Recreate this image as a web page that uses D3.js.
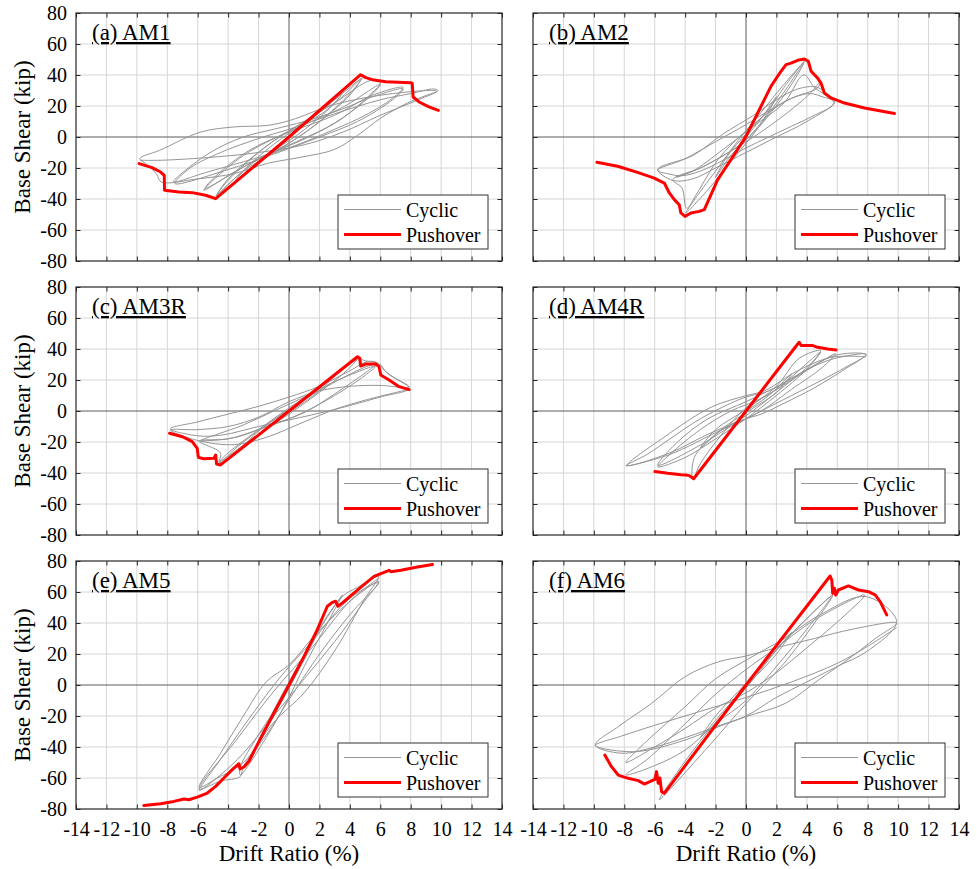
<!DOCTYPE html>
<html>
<head>
<meta charset="utf-8">
<script src="https://cdn.jsdelivr.net/npm/d3@7/dist/d3.min.js"></script>
</head>
<body style="margin:0">
<svg id="canvas" width="977" height="869" font-family="Liberation Serif"></svg>
<script>

// axis ticks and panel names.

const x_ticks = [-14, -12, -10, -8, -6, -4, -2, 0, 2, 4, 6, 8, 10, 12, 14]
const y_ticks = [-80, -60, -40, -20, 0, 20, 40, 60, 80]
const panel_names = ["(a) AM1", "(b) AM2", "(c) AM3R", "(d) AM4R", "(e) AM5", "(f) AM6"]
const legend_names = ["Cyclic", "Pushover"]

// drift ratio (%) vs base shear (kip).

const am1_cyclic = [[0,0],[2,16],[3.5,28],[2.5,17],[0.5,1],[-1.5,-12],[-3.5,-28],[-2.5,-17],[-0.5,-1],[1.5,12],[3.5,28],
    [4.8,38],[4,28],[2,10],[0,-4],[-2,-14],[-3.5,-26],[-4.8,-38],[-4,-28],[-2,-10],[0,4],[2,14],[3.5,26],[4.7,37],
    [4,27],[1.5,6],[-0.5,-7],[-3,-22],[-4.7,-37],[-4,-27],[-1.5,-6],[0.5,7],[3,22],
    [5.4,36.6],[6,35],[5.4,28],[3.5,12],[1.5,1],[-1,-10],[-3.5,-22],[-5.6,-34.4],[-5,-28],[-3,-12],[-1,-1],[1,8],[3.5,19],[6,34],
    [5.3,26],[3,9],[0.5,-3],[-2,-14],[-5.5,-33],[-4.8,-25],[-2.5,-8],[0,3],[3,14],[5.5,27],
    [7.5,32],[6.8,25],[5,14],[3,5],[0,-7],[-3,-16],[-5.5,-23],[-7.6,-29],[-7,-23],[-5,-9],[-3,0],[-1,5],[1,10],[3.5,18],[5.5,26],[7.5,31],
    [6.8,24],[4.5,10],[2,0],[-1,-11],[-4,-21],[-7.5,-30],
    [-6.5,-20],[-4.5,-10],[-2,-1],[0,5],[3,15],[6,24],[8,28],[9.5,31],[9.8,30],[8.8,26],[7.8,22],[6,12],[4.5,1],[3,-8],[0.8,-13],
    [-1.4,-17],[-3.6,-23.6],[-6,-27],[-8.4,-29],[-8.7,-24],[-9.3,-18],[-9.8,-14],
    [-8.5,-8.6],[-5.8,3.2],[-3.6,6.5],[-1.4,7.5],[0.1,10.8],[3,21],[6.8,28],[9.7,29.5],
    [8.5,24],[6,14],[3.5,3],[1,-5],[-2,-10],[-5,-13],[-8.4,-15],[-9.8,-15]]
const am1_pushover = [[-9.85,-17.2],[-9,-19.8],[-8.44,-22.6],[-8.2,-24.7],[-8.18,-34.4],[-7.24,-35.5],[-6.36,-35.9],[-5.48,-37.6],
    [-4.82,-39.8],[0,0],[4.71,40.2],[5.04,38.3],[5.48,37],[6.36,35.7],[8,35],[8.1,34.6],[8.16,25.8],[8.55,22.6],[9.2,19.4],[9.82,17.2]]

const am2_cyclic = [[0,0],[1,12],[2,26],[1.2,12],[0,-2],[-1,-12],[-2,-26],[-1.2,-12],[0,2],[1.5,18],
    [2.5,32],[3.84,49],[3.4,42],[2,22],[0.5,2],[-1,-16],[-2.5,-34],[-3.95,-49],[-3.5,-42],[-2,-22],[-0.5,-2],[1,16],[2.5,34],[3.8,48],
    [3,34],[1.5,14],[0,-2],[-1.5,-12],[-3,-20],[-4.8,-27.5],[-4.2,-33],[-3.9,-46],[-3.2,-36],[-1.8,-14],[0,4],[1.5,16],[3,25],[4.7,31.6],
    [4.9,35.9],[4.2,28],[2.5,14],[0.5,0],[-1.5,-12],[-3,-20],[-4.6,-26],[-3.5,-22],[-1.5,-8],[0.5,7],[2.5,22],[3.8,40],
    [4.5,32],[5.8,22],[4.5,14],[3,7],[1.5,0],[0,-7],[-1.5,-15],[-3,-22],[-4.2,-25],[-5,-24],[-5.8,-21.5],
    [-4,-14],[-2,-3],[0,8],[1.5,17],[3,25],[4.2,28],[5,26],[5.8,22.5],
    [4,10],[2,0],[0,-10],[-2,-20],[-3.5,-27],[-4.8,-28],[-5.8,-21],
    [-3.5,-12],[-1.5,2],[0.5,14],[2,24],[3.4,31],[4.7,32],[5.8,23]]
const am2_pushover = [[-9.8,-16.3],[-8.44,-18.9],[-7.13,-22.8],[-6.03,-26.5],[-5.37,-29.7],[-5.04,-36.1],[-4.71,-40.4],[-4.39,-43.7],
    [-4.28,-49],[-4.01,-51.2],[-3.62,-49],[-3.07,-48],[-2.74,-46.9],[-1.86,-27.5],[-0.99,-14.6],[0,0.4],[0.77,15.5],[1.64,32.7],
    [2.3,42.4],[2.63,46.7],[2.96,47.7],[3.4,49.5],[3.84,50.3],[4.1,48.8],[4.28,42.4],[4.71,38],[4.93,34.8],[5.15,28.4],[5.59,25.2],
    [6.47,21.9],[7.79,18.7],[9.76,15.1]]

const am3r_cyclic = [[0,0],[1.5,11],[3,23],[2,13],[0,-1],[-1.5,-11],[-3,-23],[-2,-13],[0,1],[2,15],
    [4.5,34],[4,28],[2,12],[0,-2],[-2,-15],[-4.6,-33],[-4,-27],[-2,-12],[0,2],[2,15],[4.5,33],
    [5.2,32],[5.8,31],[5.2,26],[3,11],[1,-1],[-1.5,-10],[-3.5,-17],[-5.8,-19],[-5.3,-17],[-3,-9],[-1,0],[1,9],[3,19],[5.7,29],
    [5,23],[3,10],[0.5,-3],[-2,-12],[-4,-18],[-5.9,-19.5],[-4.5,-27],[-4.6,-33.5],[-3.5,-24],[-1.5,-9],[0.5,4],[2.5,16],[5.5,30],
    [6,30],[6.3,26],[7,21],[7.9,14.6],[6,9],[3,1],[0,-5.8],[-2,-10],[-4.4,-15.5],[-6,-16],[-7.8,-11.5],
    [-6,-7],[-4,-2],[-2,3],[0,9],[2,16],[4,26],[5.2,32],[5.8,31],
    [6.5,24],[7.9,15.5],[6,16.5],[4.1,16],[2,13],[0,6],[-2,-4],[-4,-10],[-6,-12],[-7.8,-12.3],
    [-6,-19],[-3.6,-21.7],[-1.5,-17],[1,-7],[3,1],[5,7],[7.9,14]]
const am3r_pushover = [[-7.85,-14.4],[-7,-16.6],[-6.36,-19.8],[-6.03,-24.1],[-5.96,-29.9],[-5.6,-30.8],[-4.93,-30.5],[-4.82,-28.4],
    [-4.76,-34.2],[-4.5,-34.8],[0,0],[4.5,35],[4.65,34],[4.71,29],[5.04,30.3],[5.7,30.3],[5.92,28.6],[6.03,23.2],[6.58,20],
    [7.24,15.7],[7.9,13.8]]

const am4r_cyclic = [[0,0],[1.5,10],[3,24],[2,12],[0,-1],[-1.5,-11],[-3,-24],[-2,-12],[0,1],
    [2,16],[3.5,34],[4.9,39],[4.2,30],[2,12],[0,-3],[-2,-15],[-3.4,-30],[-3.5,-44],[-3,-34],[-1.5,-14],[0,2],[2,14],[4.9,38],
    [4,27],[2,10],[0,-5],[-2,-18],[-4,-30],[-5.8,-36],[-5,-28],[-3,-12],[-1,0],[1,8],[3,20],[5.9,37],
    [5,28],[3,14],[1,0],[-1,-10],[-3,-22],[-5.8,-35],[-4.5,-20],[-2.5,-5],[0,6],[2.5,18],[5.9,36],
    [7.9,36.3],[6.5,28],[5,20],[3,10],[1,0],[0,-5],[-2,-14],[-5,-28],[-7.9,-35.3],
    [-6.5,-28],[-5,-18],[-3,-5],[-1,5],[0,9],[1.5,13],[3.5,24],[5.5,33],[7.9,36.5],
    [6.5,27],[4.5,15],[2.5,5],[1,-2],[0,-5],[-2.5,-15],[-5,-27],[-7.8,-35],
    [-5.4,-17],[-2.3,2.4],[0,9.9],[1.2,13],[3.4,26],[5.6,34.6],[7.9,35]]
const am4r_pushover = [[-5.99,-39.1],[-5.15,-40.2],[-4.28,-41.1],[-3.95,-41.3],[-3.73,-41.7],[-3.57,-42.8],[-3.44,-43.7],[0,0],
    [3.4,43.2],[3.5,44.3],[3.62,42.2],[3.95,42.2],[4.39,42.2],[4.71,41.1],[5.37,40],[5.92,39.4]]

const am5_cyclic = [[0,0],[1,18],[2,36],[1.2,20],[0,-2],[-1,-20],[-2,-36],[-1.2,-20],[0,2],[1.5,28],
    [3.5,58],[2.8,45],[1,12],[0,-8],[-1.5,-34],[-3.2,-58],[-3.2,-53],[-2,-32],[0,-2],[1.5,28],[3.5,57],
    [4.5,63],[5.9,70],[5,56],[3,22],[1,-5],[-1,-24],[-3,-50],[-4.7,-60],[-5.9,-66],
    [-4.5,-44],[-3,-20],[-1.5,2],[0,13],[1.6,31],[3,45],[4.5,58],[5.9,67],
    [4.8,52],[3,28],[1,4],[-1,-20],[-3,-44],[-4.5,-58],[-5.9,-68],[-4.5,-48],[-2.5,-20],[-0.5,6],[1.5,28],[4,56],[5.9,66],
    [4.1,46.5],[1.9,18.5],[0,-9.5],[-1.4,-31],[-3,-52.5],[-3.2,-59],[-4.5,-62],[-5.9,-67],[-3.5,-36],[-1,-4],[1.5,24],[4,54],[5.9,69]]
const am5_pushover = [[-9.54,-77.8],[-8.44,-76.6],[-7.57,-75.1],[-6.9,-73.5],[-6.58,-74],[-6.03,-72.3],[-5.37,-69.7],[-4.82,-65.4],
    [-4.28,-60],[-3.73,-54.6],[-3.29,-50.8],[-3.22,-54.2],[-2.96,-52.9],[-2.63,-49.2],[-2.08,-38.5],[-0.99,-18.1],[0,0],[0.99,18.5],
    [1.86,35.7],[2.52,50.8],[2.85,53.3],[3.07,54],[3.22,50.8],[3.51,52.9],[4.28,59.4],[4.93,64.7],[5.59,70.1],[6.25,72.7],
    [6.58,74],[6.69,73.1],[7.35,74],[8.44,76.1],[9.43,77.8]]

const am6_cyclic = [[0,0],[1.5,17],[3,34],[2,20],[0,-1],[-1.5,-17],[-3,-34],[-2,-20],[0,1],[3,33],
    [5.7,58],[4.5,40],[2.5,14],[0,-12],[-2.5,-40],[-5.7,-74],[-4.5,-56],[-2.5,-30],[0,-2],[2.5,28],[5.6,57],
    [4,36],[2,12],[0,-10],[-2,-25],[-4,-42],[-6,-52],[-7.9,-58],[-6.5,-48],[-4,-25],[-2,-6],[0,10],[2,24],[4.5,42],[7.8,58],
    [6.5,45],[4,24],[2,8],[0,-5],[-2,-15],[-4,-28],[-6,-40],[-7.9,-50],[-6.5,-36],[-4,-14],[-2,4],[0,16],[2.5,30],[5,46],[7.9,57],
    [9.9,41],[8,22],[6,12],[4,2],[2,-8],[0,-20],[-2,-27],[-4,-34],[-6,-40],[-8.2,-44],[-9.9,-38.7],
    [-8.4,-26.9],[-6.2,-11.8],[-4,5.4],[-1.8,15],[0,18.7],[2,24],[4.5,30],[7,36],[9.9,40],
    [8.5,30],[6.95,18.3],[4.76,3.2],[2.6,-11.8],[0,-20.4],[-1.8,-26.9],[-4,-35.5],[-7.3,-43],[-9.9,-39],
    [-8.2,-33],[-6,-26],[-3,-17],[0,-8],[3,2],[6,14],[8,25],[9.9,37]]
const am6_pushover = [[-9.28,-45.2],[-8.84,-52.7],[-8.4,-58.1],[-7.74,-60.2],[-7.08,-61.7],[-6.69,-63.9],[-6.32,-62.4],[-5.99,-60.9],
    [-5.88,-55.9],[-5.77,-63.4],[-5.66,-60],[-5.55,-68.8],[-5.37,-69.9],[0,0],[5.53,70.3],[5.64,67.7],[5.7,59.1],[5.81,62.4],
    [5.9,58],[6.07,61.3],[6.73,63.9],[7.39,61.3],[8.05,60.2],[8.49,58.1],[8.82,53.8],[9.25,45.2]]

const cyclic_data = [am1_cyclic, am2_cyclic, am3r_cyclic, am4r_cyclic, am5_cyclic, am6_cyclic]
const pushover_data = [am1_pushover, am2_pushover, am3r_pushover, am4r_pushover, am5_pushover, am6_pushover]

// layout.

const col_left = [76, 533]
const row_top = [13, 287, 561]
const panel_w = 426
const panel_h = 248

// serif text helper: attribute and style both, so the face sticks.

function serif_text(sel, size) {
    return sel.attr("font-family", "Liberation Serif")
        .attr("font-size", size)
        .style("font-family", "Liberation Serif")
        .style("font-size", size + "px")
        .style("fill", "#000")
}

// draw one panel.

function draw_panel(i) {

    let col = i % 2
    let row = Math.floor(i / 2)
    let left = col_left[col]
    let top = row_top[row]

    let x = d3.scaleLinear().domain([-14, 14]).range([left, left + panel_w])
    let y = d3.scaleLinear().domain([-80, 80]).range([top + panel_h, top])

    let g = d3.select("#canvas").append("g").attr("class", "panel")

    // grid lines.

    g.selectAll(".vgrid")
        .data(x_ticks.filter(d => d != 0 && Math.abs(d) != 14))
        .join("line")
        .attr("x1", d => x(d)).attr("x2", d => x(d))
        .attr("y1", top).attr("y2", top + panel_h)
        .style("stroke", "#d6d6d6").style("stroke-width", 1)

    g.selectAll(".hgrid")
        .data(y_ticks.filter(d => d != 0 && Math.abs(d) != 80))
        .join("line")
        .attr("x1", left).attr("x2", left + panel_w)
        .attr("y1", d => y(d)).attr("y2", d => y(d))
        .style("stroke", "#d6d6d6").style("stroke-width", 1)

    // zero lines.

    g.append("line")
        .attr("x1", x(0)).attr("x2", x(0)).attr("y1", top).attr("y2", top + panel_h)
        .style("stroke", "#5a5a5a").style("stroke-width", 1)
    g.append("line")
        .attr("x1", left).attr("x2", left + panel_w).attr("y1", y(0)).attr("y2", y(0))
        .style("stroke", "#5a5a5a").style("stroke-width", 1)

    // axes with inward ticks.

    let fmt = d => String(d)
    let bottom = d3.axisBottom(x).tickValues(x_ticks).tickSize(-4.5).tickPadding(13)
        .tickFormat(row == 2 ? fmt : "")
    let topaxis = d3.axisTop(x).tickValues(x_ticks).tickSize(-4.5).tickFormat("")
    let leftaxis = d3.axisLeft(y).tickValues(y_ticks).tickSize(-4.5).tickPadding(9)
        .tickFormat(col == 0 ? fmt : "")
    let rightaxis = d3.axisRight(y).tickValues(y_ticks).tickSize(-4.5).tickFormat("")

    let axes = [
        g.append("g").attr("transform", `translate(0, ${top + panel_h})`).call(bottom),
        g.append("g").attr("transform", `translate(0, ${top})`).call(topaxis),
        g.append("g").attr("transform", `translate(${left}, 0)`).call(leftaxis),
        g.append("g").attr("transform", `translate(${left + panel_w}, 0)`).call(rightaxis)
    ]
    axes.forEach(a => a.attr("font-family", "Liberation Serif").attr("font-size", 20))

    g.selectAll(".domain").remove()
    g.selectAll(".tick line").style("stroke", "#262626")
    serif_text(g.selectAll(".tick text"), 20)

    // curves.

    let line = d3.line()
        .x(d => x(d[0])).y(d => y(d[1]))
        .curve(d3.curveCatmullRom.alpha(0.5))
    let line_straight = d3.line().x(d => x(d[0])).y(d => y(d[1]))

    g.append("path")
        .datum(cyclic_data[i])
        .attr("d", line)
        .style("fill", "none")
        .style("stroke", "#959595")
        .style("stroke-width", 1)
        .style("stroke-linejoin", "round")

    g.append("path")
        .datum(pushover_data[i])
        .attr("d", line_straight)
        .style("fill", "none")
        .style("stroke", "#ff0000")
        .style("stroke-width", 3)
        .style("stroke-linejoin", "round")
        .style("stroke-linecap", "round")

    // box.

    g.append("rect")
        .attr("x", left).attr("y", top)
        .attr("width", panel_w).attr("height", panel_h)
        .style("fill", "none")
        .style("stroke", "#262626")
        .style("stroke-width", 1.2)

    // panel title.

    serif_text(g.append("text"), 23)
        .attr("x", left + 16)
        .attr("y", top + 27)
        .attr("text-decoration", "underline")
        .style("text-decoration", "underline")
        .text(panel_names[i])

    // legend.

    let lx = left + panel_w - 14 - 150
    let ly = top + panel_h - 12 - 54

    g.append("rect")
        .attr("x", lx).attr("y", ly)
        .attr("width", 150).attr("height", 54)
        .style("fill", "white")
        .style("stroke", "#333")
        .style("stroke-width", 1)

    g.append("line")
        .attr("x1", lx + 6).attr("x2", lx + 63)
        .attr("y1", ly + 14.5).attr("y2", ly + 14.5)
        .style("stroke", "#959595").style("stroke-width", 1)
    g.append("line")
        .attr("x1", lx + 6).attr("x2", lx + 63)
        .attr("y1", ly + 39.5).attr("y2", ly + 39.5)
        .style("stroke", "#ff0000").style("stroke-width", 3)

    serif_text(g.selectAll(".legend_text").data(legend_names).join("text"), 20)
        .attr("x", lx + 68)
        .attr("y", (d, k) => ly + 21.5 + k * 25)
        .text(d => d)

    // axis labels.

    if (col == 0) {
        serif_text(g.append("text"), 23)
            .attr("transform", `translate(30, ${top + panel_h / 2}) rotate(-90)`)
            .attr("text-anchor", "middle")
            .text("Base Shear (kip)")
    }
    if (row == 2) {
        serif_text(g.append("text"), 23)
            .attr("x", x(0))
            .attr("y", 861)
            .attr("text-anchor", "middle")
            .text("Drift Ratio (%)")
    }
}

for (let i = 0; i < 6; i++) {
    draw_panel(i)
}

</script>
</body>
</html>
